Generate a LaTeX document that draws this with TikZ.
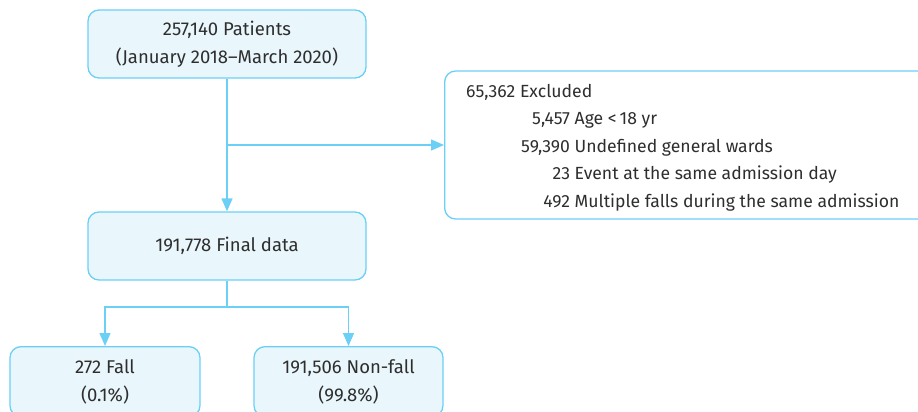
\documentclass[tikz,border=0pt]{standalone}
\usepackage{fontspec}
\setmainfont{Fira Sans}
\usetikzlibrary{arrows.meta}
\definecolor{flowline}{HTML}{6CCFF6}
\definecolor{flowfill}{HTML}{E9F6FC}
\definecolor{flowtext}{HTML}{2E2E2E}
\begin{document}
\begin{tikzpicture}[x=1pt,y=-1pt,
  box/.style={draw=flowline, fill=flowfill, line width=1.3pt, rounded corners=11pt,
    align=center, text=flowtext, font=\fontsize{18.5}{28}\selectfont},
  flow/.style={draw=flowline, line width=1.3pt, -{Triangle[width=11pt,length=13pt]}}]
\useasboundingbox (0,0) rectangle (918,412);
\node[box, minimum width=278pt, minimum height=68pt] (patients) at (227,44) {257,140 Patients\\(January 2018--March 2020)};
\node[box, fill=white, minimum width=490pt, minimum height=148pt, anchor=west] (excluded) at (444,145) {};
\node[anchor=north west, inner sep=0pt, text=flowtext, font=\fontsize{17.6}{27.5}\selectfont] (exclist) at (466,78) {%
  \begin{tabular}{@{\hspace{55pt}}r@{ }l}
  \multicolumn{2}{@{}l}{65,362 Excluded}\\
  5,457 & Age <\,18 yr\\
  59,390 & Undefined general wards\\
  23 & Event at the same admission day\\
  492 & Multiple falls during the same admission
  \end{tabular}};
\node[box, minimum width=278pt, minimum height=68pt] (final) at (227,246) {191,778 Final data};
\node[box, minimum width=190pt, minimum height=70pt, anchor=north] (fall) at (105,346) {272 Fall\\(0.1\%)};
\node[box, minimum width=189pt, minimum height=70pt, anchor=north] (nonfall) at (348.5,346) {191,506 Non-fall\\(99.8\%)};
\coordinate (split) at (patients.south |- excluded.west);
\coordinate (fork) at (227,307);
\path[flow] (patients) -- (final);
\path[flow] (split) -- (excluded.west);
\path[draw=flowline, line width=1.3pt] (final) -- (fork);
\path[flow] (fork) -| (fall);
\path[flow] (fork) -| (nonfall);
\end{tikzpicture}
\end{document}
